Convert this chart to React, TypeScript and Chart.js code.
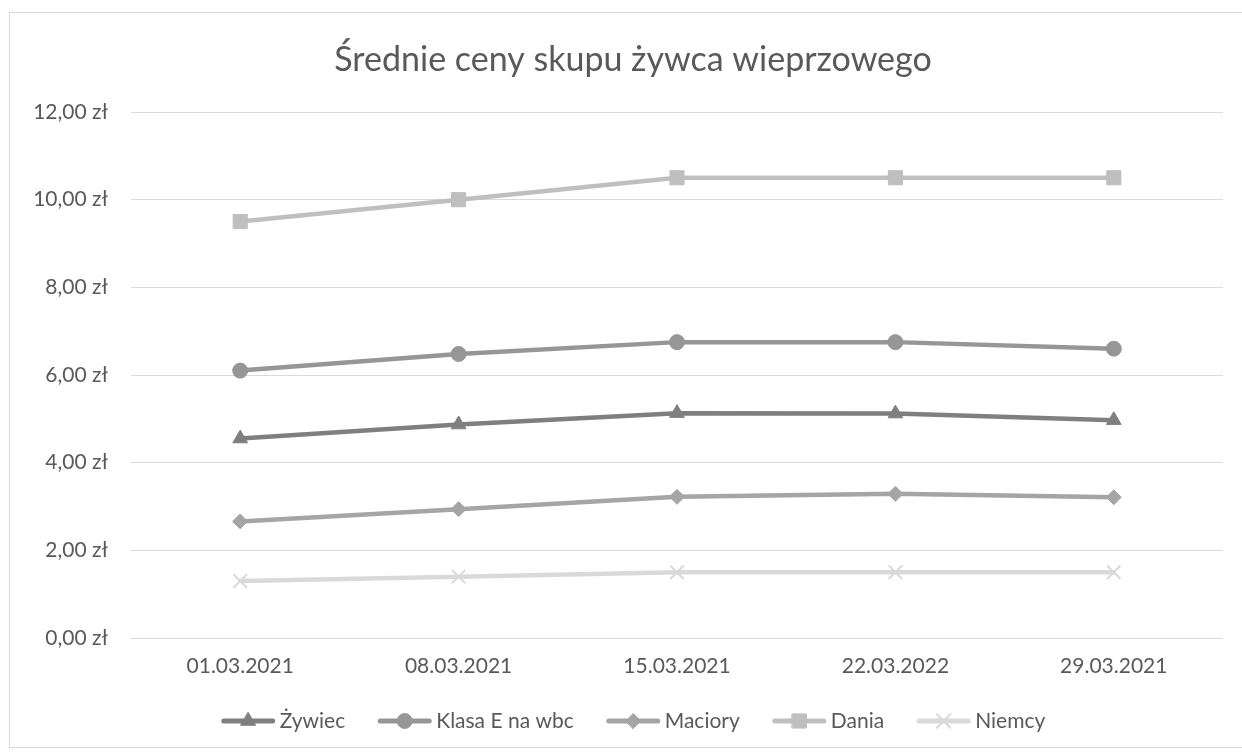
import React, { useEffect, useRef } from 'react';
import { Chart, registerables, PointElement } from 'chart.js';
Chart.register(...registerables);

const categories = ['01.03.2021', '08.03.2021', '15.03.2021', '22.03.2022', '29.03.2021'];
const seriesNames = ['Żywiec', 'Klasa E na wbc', 'Maciory', 'Dania', 'Niemcy'];
const zywiec = [4.55, 4.87, 5.13, 5.12, 4.97];
const klasaE = [6.1, 6.48, 6.75, 6.75, 6.6];
const maciory = [2.66, 2.94, 3.22, 3.29, 3.21];
const dania = [9.5, 10.0, 10.5, 10.5, 10.5];
const niemcy = [1.3, 1.4, 1.5, 1.5, 1.5];
const yMin = 0;
const yMax = 12;
const yStep = 2;
const title = 'Średnie ceny skupu żywca wieprzowego';

const FONT = 'Lato';
const TEXT = '#595959';
const LABEL_SIZE = 21;

const styles = [
  { color: '#7f7f7f', point: 'triangle', radius: 8.5 },
  { color: '#969696', point: 'circle', radius: 7.5 },
  { color: '#a5a5a5', point: 'rectRot', radius: 7.5 },
  { color: '#bfbfbf', point: 'rect', radius: 10 },
  { color: '#d9d9d9', point: 'crossRot', radius: 9.5 },
];

const titlePlugin = {
  id: 'centeredTitle',
  afterDraw(chart: any) {
    const ctx = chart.ctx;
    ctx.save();
    ctx.font = `34px ${FONT}`;
    ctx.fillStyle = TEXT;
    ctx.textAlign = 'center';
    ctx.textBaseline = 'middle';
    ctx.fillText(title, chart.width / 2, 47);
    ctx.restore();
  },
};

const legendPlugin = {
  id: 'excelLegend',
  afterDraw(chart: any) {
    const ctx = chart.ctx;
    const ds = chart.data.datasets;
    ctx.save();
    ctx.font = `${LABEL_SIZE}px ${FONT}`;
    const lineW = 55, gapText = 4, gapItem = 32;
    const widths = ds.map((d: any) => lineW + gapText + ctx.measureText(d.label).width);
    const total = widths.reduce((a: number, b: number) => a + b, 0) + gapItem * (ds.length - 1);
    let x = chart.width / 2 - total / 2;
    const y = 708;
    const area = { left: 0, top: 0, right: chart.width, bottom: chart.height };
    ds.forEach((d: any, i: number) => {
      ctx.strokeStyle = d.borderColor;
      ctx.lineWidth = 5;
      ctx.lineCap = 'round';
      ctx.beginPath();
      ctx.moveTo(x + 3, y);
      ctx.lineTo(x + lineW - 3, y);
      ctx.stroke();
      const p = new (PointElement as any)({});
      p.x = x + lineW / 2;
      p.y = y;
      p.options = {
        pointStyle: d.pointStyle,
        radius: d.pointRadius,
        backgroundColor: d.pointBackgroundColor,
        borderColor: d.pointBorderColor,
        borderWidth: d.pointBorderWidth,
        rotation: 0,
      };
      p.draw(ctx, area);
      ctx.fillStyle = TEXT;
      ctx.textBaseline = 'middle';
      ctx.textAlign = 'left';
      ctx.fillText(d.label, x + lineW + gapText, y);
      x += widths[i] + gapItem;
    });
    ctx.restore();
  },
};

export default function App() {
  const ref = useRef<HTMLCanvasElement>(null);
  useEffect(() => {
    if (!ref.current) return;
    const values = [zywiec, klasaE, maciory, dania, niemcy];
    const chart = new Chart(ref.current, {
      type: 'line',
      data: {
        labels: categories,
        datasets: values.map((v, i) => ({
          label: seriesNames[i],
          data: v,
          borderColor: styles[i].color,
          backgroundColor: styles[i].color,
          borderWidth: 4.5,
          borderCapStyle: 'round',
          borderJoinStyle: 'round',
          pointStyle: styles[i].point as any,
          pointRadius: styles[i].radius,
          pointHoverRadius: styles[i].radius,
          pointBackgroundColor: styles[i].color,
          pointBorderColor: styles[i].color,
          pointBorderWidth: styles[i].point === 'crossRot' ? 2 : 1,
          tension: 0,
        })),
      },
      options: {
        animation: false,
        responsive: false,
        layout: { padding: { left: 0, right: 33, top: 99, bottom: 59 } },
        plugins: {
          legend: { display: false },
          tooltip: { enabled: false },
          title: { display: false },
        },
        scales: {
          x: {
            offset: true,
            grid: { display: false, drawTicks: false },
            border: { display: false },
            ticks: { color: TEXT, font: { family: FONT, size: LABEL_SIZE }, padding: 15.4, maxRotation: 0 },
            afterFit: (s: any) => { s.height = 50; },
          },
          y: {
            min: yMin,
            max: yMax,
            grid: { color: '#d9d9d9', lineWidth: 1, drawTicks: false },
            border: { display: false },
            ticks: {
              stepSize: yStep,
              color: TEXT,
              font: { family: FONT, size: LABEL_SIZE },
              padding: 23,
              callback: (v: any) => Number(v).toFixed(2).replace('.', ',') + ' zł',
            },
            afterFit: (s: any) => { s.width = 121; },
          },
        },
      },
      plugins: [titlePlugin, legendPlugin],
    });
    return () => chart.destroy();
  }, []);
  return (
    <div style={{ position: 'absolute', left: 0, top: 0, width: 1242, height: 753, overflow: 'hidden', background: '#fff' }}>
      <div style={{ position: 'absolute', left: 9, top: 12, width: 1248, height: 736, border: '1px solid #d9d9d9', boxSizing: 'border-box', background: '#fff' }}>
        <canvas ref={ref} width={1246} height={734} style={{ display: 'block', width: 1246, height: 734 }} />
      </div>
    </div>
  );
}
